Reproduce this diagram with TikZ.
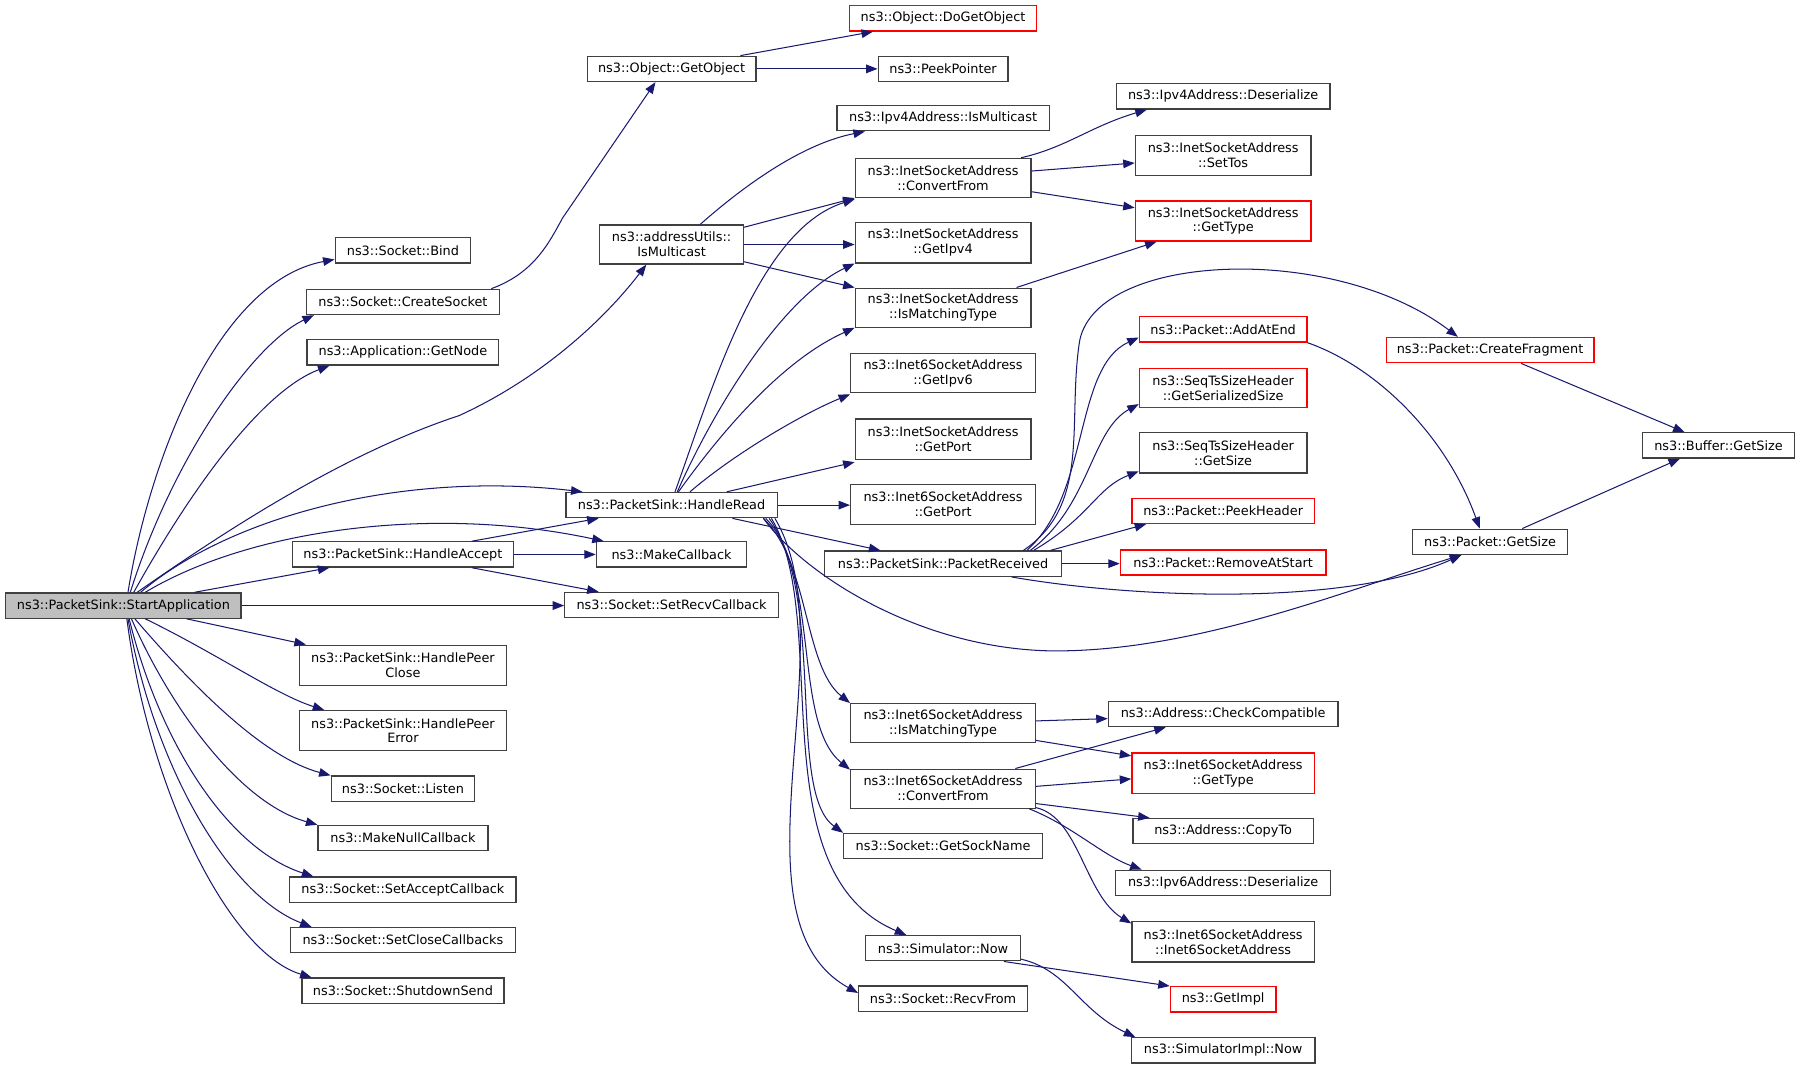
\documentclass[tikz,border=0pt]{standalone}
\usepackage{fontspec}
\setmainfont{DejaVu Sans}
\usepackage{xcolor}
\usetikzlibrary{arrows.meta}
\definecolor{edgeblue}{HTML}{191970}
\definecolor{boxgray}{HTML}{404040}
\definecolor{rootgray}{HTML}{BFBFBF}
\def\fnfont{\fontsize{11.2}{13}\selectfont}
\tikzstyle{fn}=[draw=boxgray,line width=1.1pt,fill=white,minimum height=22pt,inner sep=1pt,align=center,font=\fnfont]
\tikzstyle{fntwo}=[fn,minimum height=35pt]
\tikzstyle{trunc}=[draw=red]
\tikzstyle{root}=[fill=rootgray]
\tikzstyle{call}=[draw=edgeblue,line width=0.9pt,-{Triangle[length=10pt,width=7.5pt]}]

\begin{document}
\begin{tikzpicture}[x=1pt,y=-1pt]
    \useasboundingbox (0,0) rectangle (1568,933);
    % rank 0
    \node[fn,root,minimum width=205pt] (start) at (107.5,527.5) {ns3::PacketSink::StartApplication};
    % rank 1
    \node[fn,minimum width=118pt] (bind) at (351,218) {ns3::Socket::Bind};
    \node[fn,minimum width=168pt] (createsocket) at (351,263) {ns3::Socket::CreateSocket};
    \node[fn,minimum width=167pt] (getnode) at (351,307) {ns3::Application::GetNode};
    \node[fn,minimum width=193pt] (handleaccept) at (351,483) {ns3::PacketSink::HandleAccept};
    \node[fntwo,minimum width=180pt] (peerclose) at (351,579.5) {ns3::PacketSink::HandlePeer\\Close};
    \node[fntwo,minimum width=180pt] (peererror) at (351,636.5) {ns3::PacketSink::HandlePeer\\Error};
    \node[fn,minimum width=125pt] (listen) at (351,687) {ns3::Socket::Listen};
    \node[fn,minimum width=148pt] (makenull) at (351,730) {ns3::MakeNullCallback};
    \node[fn,minimum width=197pt] (setaccept) at (351,775) {ns3::Socket::SetAcceptCallback};
    \node[fn,minimum width=196pt] (setclose) at (351,819) {ns3::Socket::SetCloseCallbacks};
    \node[fn,minimum width=176pt] (shutdown) at (351,863) {ns3::Socket::ShutdownSend};
    % rank 2
    \node[fn,minimum width=147pt] (getobject) at (585,60) {ns3::Object::GetObject};
    \node[fntwo,minimum width=125pt,minimum height=34pt] (addrmc) at (585,213) {ns3::addressUtils::\\IsMulticast};
    \node[fn,minimum width=184pt] (handleread) at (585,440) {ns3::PacketSink::HandleRead};
    \node[fn,minimum width=131pt] (makecb) at (585,483) {ns3::MakeCallback};
    \node[fn,minimum width=186pt] (setrecv) at (585,527) {ns3::Socket::SetRecvCallback};
    % rank 3
    \node[fn,trunc,minimum width=163pt] (dogetobject) at (821.5,16) {ns3::Object::DoGetObject};
    \node[fn,minimum width=113pt] (peekptr) at (821.5,60) {ns3::PeekPointer};
    \node[fn,minimum width=185pt] (ipv4mc) at (821.5,103) {ns3::Ipv4Address::IsMulticast};
    \node[fntwo,minimum width=153pt,minimum height=34pt] (inetconv) at (821.5,155) {ns3::InetSocketAddress\\::ConvertFrom};
    \node[fntwo,minimum width=153pt] (inetipv4) at (821.5,211.5) {ns3::InetSocketAddress\\::GetIpv4};
    \node[fntwo,minimum width=153pt,minimum height=34pt] (inetmatch) at (821.5,268) {ns3::InetSocketAddress\\::IsMatchingType};
    \node[fntwo,minimum width=161pt,minimum height=34pt] (inet6ipv6) at (821.5,325) {ns3::Inet6SocketAddress\\::GetIpv6};
    \node[fntwo,minimum width=153pt] (inetport) at (821.5,382.5) {ns3::InetSocketAddress\\::GetPort};
    \node[fntwo,minimum width=161pt] (inet6port) at (821.5,439.5) {ns3::Inet6SocketAddress\\::GetPort};
    \node[fn,minimum width=206pt] (pktrecv) at (821.5,491) {ns3::PacketSink::PacketReceived};
    \node[fntwo,minimum width=161pt,minimum height=34pt] (inet6match) at (821.5,630) {ns3::Inet6SocketAddress\\::IsMatchingType};
    \node[fntwo,minimum width=161pt,minimum height=34pt] (inet6conv) at (821.5,687) {ns3::Inet6SocketAddress\\::ConvertFrom};
    \node[fn,minimum width=173pt] (sockname) at (821.5,737) {ns3::Socket::GetSockName};
    \node[fn,minimum width=135pt] (simnow) at (821.5,826) {ns3::Simulator::Now};
    \node[fn,minimum width=147pt] (recvfrom) at (821.5,870) {ns3::Socket::RecvFrom};
    % rank 4
    \node[fn,minimum width=186pt] (ipv4deser) at (1065.5,84) {ns3::Ipv4Address::Deserialize};
    \node[fntwo,minimum width=153pt] (settos) at (1065.5,135.5) {ns3::InetSocketAddress\\::SetTos};
    \node[fntwo,trunc,minimum width=153pt] (inettype) at (1065.5,192.5) {ns3::InetSocketAddress\\::GetType};
    \node[fn,trunc,minimum width=146pt] (addatend) at (1065.5,287) {ns3::Packet::AddAtEnd};
    \node[fntwo,trunc,minimum width=146pt,minimum height=34pt] (serialsize) at (1065.5,338) {ns3::SeqTsSizeHeader\\::GetSerializedSize};
    \node[fntwo,minimum width=146pt] (seqsize) at (1065.5,394.5) {ns3::SeqTsSizeHeader\\::GetSize};
    \node[fn,trunc,minimum width=159pt] (peekhdr) at (1065.5,445) {ns3::Packet::PeekHeader};
    \node[fn,trunc,minimum width=179pt] (removestart) at (1065.5,490) {ns3::Packet::RemoveAtStart};
    \node[fn,minimum width=200pt] (checkcompat) at (1065.5,622) {ns3::Address::CheckCompatible};
    \node[fntwo,trunc,minimum width=159pt] (inet6type) at (1065.5,673.5) {ns3::Inet6SocketAddress\\::GetType};
    \node[fn,minimum width=157pt] (copyto) at (1065.5,724) {ns3::Address::CopyTo};
    \node[fn,minimum width=187pt] (ipv6deser) at (1065.5,769) {ns3::Ipv6Address::Deserialize};
    \node[fntwo,minimum width=159pt] (inet6ctor) at (1065.5,820.5) {ns3::Inet6SocketAddress\\::Inet6SocketAddress};
    \node[fn,trunc,minimum width=92pt] (getimpl) at (1065.5,870.5) {ns3::GetImpl};
    \node[fn,minimum width=160pt] (simimplnow) at (1065.5,915) {ns3::SimulatorImpl::Now};
    % rank 5 and 6
    \node[fn,trunc,minimum width=181pt] (createfrag) at (1298,305) {ns3::Packet::CreateFragment};
    \node[fn,minimum width=135pt] (pktsize) at (1298,472) {ns3::Packet::GetSize};
    \node[fn,minimum width=132pt] (buffersize) at (1497,388) {ns3::Buffer::GetSize};

    % calls of StartApplication
    \draw[call] ([xshift=4pt]start.north) .. controls (130,400) and (190,245) .. ([yshift=-8pt]bind.west);
    \draw[call] ([xshift=6pt]start.north) .. controls (150,400) and (220,300) .. ([xshift=7pt]createsocket.south west);
    \draw[call] ([xshift=9pt]start.north) .. controls (170,420) and (230,340) .. ([xshift=20pt]getnode.south west);
    \draw[call] ([xshift=12pt]start.north) .. controls (200,460) and (300,395) .. (400,362) .. controls (470,330) and (525,280) .. ([xshift=-22pt]addrmc.south);
    \draw[call] ([xshift=15pt]start.north) .. controls (200,450) and (350,410) .. ([xshift=15pt]handleread.north west);
    \draw[call] ([xshift=19pt]start.north) .. controls (220,460) and (380,440) .. ([xshift=7pt]makecb.north west);
    \draw[call] ([xshift=62pt]start.north) -- ([xshift=33pt]handleaccept.south west);
    \draw[call] (start.east) -- (start.east -| setrecv.west);
    \draw[call] ([xshift=55pt]start.south) -- ([xshift=6pt]peerclose.north west);
    \draw[call] ([xshift=19pt]start.south) .. controls (190,570) and (240,605) .. ([xshift=22pt]peererror.north west);
    \draw[call] ([xshift=10pt]start.south) .. controls (170,600) and (230,660) .. (listen.north west);
    \draw[call] ([xshift=7pt]start.south) .. controls (150,620) and (210,700) .. (makenull.north west);
    \draw[call] ([xshift=5pt]start.south) .. controls (140,650) and (200,740) .. ([xshift=21pt]setaccept.north west);
    \draw[call] ([xshift=4pt]start.south) .. controls (135,670) and (200,780) .. ([xshift=19pt]setclose.north west);
    \draw[call] ([xshift=3pt]start.south) .. controls (130,690) and (200,830) .. ([xshift=9pt]shutdown.north west);

    % rank 1 calls
    \draw[call] ([xshift=77pt]createsocket.north) .. controls (465,238) and (478,212) .. (490,190) -- ([xshift=-14pt]getobject.south);
    \draw[call] ([xshift=60pt]handleaccept.north) -- ([xshift=29pt]handleread.south west);
    \draw[call] (handleaccept.east) -- (makecb.west);
    \draw[call] ([xshift=60pt]handleaccept.south) -- ([xshift=30pt]setrecv.north west);

    % rank 2 calls
    \draw[call] ([xshift=60pt]getobject.north) -- ([xshift=21pt]dogetobject.south west);
    \draw[call] (getobject.east) -- (peekptr.west);
    \draw[call] ([xshift=25pt]addrmc.north) .. controls (650,160) and (700,125) .. ([xshift=25pt]ipv4mc.south west);
    \draw[call] ([yshift=15pt]addrmc.east) -- (inetconv.south west);
    \draw[call] (addrmc.east) -- (addrmc.east -| inetipv4.west);
    \draw[call] ([yshift=-15pt]addrmc.east) -- (inetmatch.north west);
    \draw[call] ([xshift=3pt]handleread.north) .. controls (620,340) and (660,200) .. ([yshift=-1pt]inetconv.south west);
    \draw[call] ([xshift=5pt]handleread.north) .. controls (620,360) and (680,260) .. (inetipv4.south west);
    \draw[call] ([xshift=6pt]handleread.north) .. controls (640,360) and (690,310) .. (inetmatch.south west);
    \draw[call] ([xshift=16pt]handleread.north) .. controls (640,395) and (700,360) .. ([yshift=-1pt]inet6ipv6.south west);
    \draw[call] ([xshift=48pt]handleread.north) -- ([yshift=-2pt]inetport.south west);
    \draw[call] (handleread.east) -- (handleread.east -| inet6port.west);
    \draw[call] ([xshift=53pt]handleread.south) -- ([xshift=49pt]pktrecv.north west);
    \draw[call] ([xshift=80pt]handleread.south) .. controls (700,500) and (800,565) .. (916,567) .. controls (1040,568) and (1170,515) .. ([xshift=-25pt]pktsize.south);
    \draw[call] ([xshift=80pt]handleread.south) .. controls (705,490) and (700,580) .. (inet6match.north west);
    \draw[call] ([xshift=82pt]handleread.south) .. controls (715,500) and (690,630) .. ([yshift=-1pt]inet6conv.north west);
    \draw[call] ([xshift=85pt]handleread.south) .. controls (720,520) and (685,690) .. (sockname.north west);
    \draw[call] ([xshift=87pt]handleread.south) .. controls (725,540) and (660,760) .. ([xshift=36pt]simnow.north west);
    \draw[call] ([xshift=90pt]handleread.south) .. controls (740,560) and (630,800) .. ([yshift=5pt]recvfrom.west);

    % rank 3 calls
    \draw[call] ([xshift=68pt]inetconv.north) .. controls (930,128) and (950,110) .. ([xshift=27pt]ipv4deser.south west);
    \draw[call] ([yshift=6pt]inetconv.east) -- ([yshift=-6.5pt]settos.west);
    \draw[call] ([yshift=-12pt]inetconv.east) -- ([yshift=11.5pt]inettype.west);
    \draw[call] ([xshift=64pt]inetmatch.north) -- ([xshift=19pt]inettype.south west);
    \draw[call] ([xshift=70pt]pktrecv.north) .. controls (950,440) and (930,370) .. (940,300) .. controls (950,220) and (1160,210) .. ([xshift=63pt]createfrag.north west);
    \draw[call] ([xshift=73pt]pktrecv.north) .. controls (950,430) and (935,320) .. ([yshift=-7pt]addatend.west);
    \draw[call] ([xshift=76pt]pktrecv.north) .. controls (950,440) and (950,375) .. ([yshift=-14pt]serialsize.west);
    \draw[call] ([xshift=79pt]pktrecv.north) .. controls (950,450) and (955,425) .. ([yshift=2pt]seqsize.south west);
    \draw[call] ([xshift=-10pt]pktrecv.north east) -- ([xshift=13pt]peekhdr.south west);
    \draw[call] (pktrecv.east) -- (pktrecv.east -| removestart.west);
    \draw[call] ([xshift=-44pt]pktrecv.south east) .. controls (980,520) and (1170,530) .. ([xshift=-25pt]pktsize.south);
    \draw[call] ([yshift=2pt]inet6match.east) -- ([yshift=-4pt]checkcompat.west);
    \draw[call] ([yshift=-15pt]inet6match.east) -- ([yshift=-3pt]inet6type.north west);
    \draw[call] ([xshift=63pt]inet6conv.north) -- ([xshift=-50pt]checkcompat.south);
    \draw[call] ([yshift=2pt]inet6conv.east) -- ([yshift=-5pt]inet6type.west);
    \draw[call] ([yshift=-13pt]inet6conv.east) -- ([xshift=15pt]copyto.north west);
    \draw[call] ([xshift=-6pt]inet6conv.south east) .. controls (935,720) and (960,745) .. ([xshift=23pt]ipv6deser.north west);
    \draw[call] ([yshift=1pt]inet6conv.south east) .. controls (940,712) and (945,780) .. ([yshift=-2pt]inet6ctor.north west);
    \draw[call] ([xshift=-15pt]simnow.south east) -- (getimpl.north west);
    \draw[call] ([yshift=2pt]simnow.south east) .. controls (930,845) and (940,880) .. ([xshift=4pt]simimplnow.north west);

    % rank 4 and 5 calls
    \draw[call] (addatend.south east) .. controls (1200,320) and (1260,380) .. ([xshift=-9pt]pktsize.north);
    \draw[call] ([xshift=27pt]createfrag.south) -- ([xshift=37pt]buffersize.north west);
    \draw[call] ([xshift=28pt]pktsize.north) -- ([xshift=33pt]buffersize.south west);
\end{tikzpicture}
\end{document}
